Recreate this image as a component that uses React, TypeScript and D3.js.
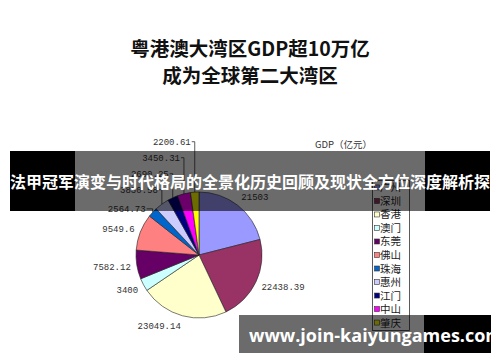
import * as React from "react";
import * as d3 from "d3";

const cities = ["广州", "深圳", "香港", "澳门", "东莞", "佛山", "珠海", "惠州", "江门", "中山", "肇庆"];
const gdp = [21503, 22438.39, 23049.14, 3400, 7582.12, 9549.6, 2564.73, 3830.58, 2690.25, 3450.31, 2200.61];
const colors = ["#9999FF", "#993366", "#FFFFCC", "#CCFFFF", "#660066", "#FF8080", "#0066CC", "#CCCCFF", "#000080", "#FF00FF", "#FFFF00"];
const titleLines = ["粤港澳大湾区GDP超10万亿", "成为全球第二大湾区"];
const legendTitle = "GDP（亿元）";
const bannerText = "法甲冠军演变与时代格局的全景化历史回顾及现状全方位深度解析探";
const siteText = "www.join-kaiyungames.com";

const W = 500;
const H = 362;
const cx = 199;
const cy = 255;
const R = 63;

const cjk = "'Noto Sans CJK SC', 'Noto Sans', sans-serif";
const mono = "'Liberation Mono', 'DejaVu Sans Mono', monospace";

export default function App() {
  const ref = React.useRef<SVGSVGElement>(null);

  React.useEffect(() => {
    const svg = d3.select(ref.current);
    svg.selectAll("*").remove();

    svg.append("rect").attr("width", W).attr("height", H).attr("fill", "#fff");

    // title
    svg.append("g")
      .selectAll("text")
      .data(titleLines)
      .enter()
      .append("text")
      .attr("x", W / 2)
      .attr("y", (d, i) => 56 + i * 27)
      .attr("text-anchor", "middle")
      .style("font-family", cjk)
      .style("font-weight", "bold")
      .style("font-size", "19.5px")
      .attr("fill", "#111")
      .text(d => d);

    const rows = cities.map((c, i) => ({ city: c, value: gdp[i], color: colors[i] }));
    const pie = d3.pie<any>().value(d => d.value).sort(null);
    const arcs = pie(rows);
    const arc = d3.arc<any>().innerRadius(0).outerRadius(R);

    const g = svg.append("g").attr("transform", `translate(${cx},${cy})`);
    g.selectAll("path")
      .data(arcs)
      .enter()
      .append("path")
      .attr("d", arc)
      .attr("fill", d => d.data.color)
      .attr("stroke", "#222")
      .attr("stroke-width", 0.6);

    // labels, Excel-like: outside the pie, pushed up on the crowded left side
    const labels = arcs.map(d => {
      const a = (d.startAngle + d.endAngle) / 2;
      const s = Math.sin(a);
      const c = Math.cos(a);
      const ax = cx + (R + 6) * s;
      const ay = cy - (R + 6) * c;
      const text = String(d.data.value);
      return {
        a, s, c, text,
        left: s < 0,
        x: ax,
        y: ay - c * 4.5 + 3.5,
        natural: ay - c * 4.5 + 3.5,
        px: cx + R * s,
        py: cy - R * c,
        leader: false,
      };
    });
    const gap = 16;
    let prev = Infinity;
    labels.filter(l => l.left).forEach(l => {
      if (l.y > prev - gap) l.y = prev - gap;
      prev = l.y;
    });
    labels.forEach(l => {
      if (l.left && l.natural - l.y > 2) {
        l.x = l.px - 4;
        l.leader = true;
      } else if (l.left && l.c > 0.5) {
        // near-horizontal tick for labels close to the crowded corner
        l.x = l.px - 7;
        l.y = l.py - 0.5;
        l.leader = true;
      }
    });

    const lg = svg.append("g");
    lg.selectAll("path")
      .data(labels.filter(l => l.leader))
      .enter()
      .append("path")
      .attr("d", l => `M${l.x + 1},${l.y - 3}H${l.px}V${l.py}`)
      .attr("fill", "none")
      .attr("stroke", "#333")
      .attr("stroke-width", 0.8);
    lg.selectAll("text")
      .data(labels)
      .enter()
      .append("text")
      .attr("x", l => l.x)
      .attr("y", l => l.y)
      .attr("text-anchor", l => (l.left ? "end" : "start"))
      .style("font-family", mono)
      .style("font-size", "9px")
      .attr("fill", "#333")
      .text(l => l.text);

    // legend
    svg.append("text")
      .attr("x", 315)
      .attr("y", 148)
      .style("font-family", cjk)
      .style("font-size", "9.5px")
      .attr("fill", "#333")
      .text(legendTitle);

    const ly = d3.scaleBand().domain(cities).range([180, 330]).paddingOuter(0.05);
    svg.append("rect")
      .attr("x", 372.5)
      .attr("y", 180.5)
      .attr("width", 37)
      .attr("height", 150)
      .attr("fill", "#fff")
      .attr("stroke", "#333")
      .attr("stroke-width", 0.8);
    const items = svg.append("g")
      .selectAll("g")
      .data(rows)
      .enter()
      .append("g")
      .attr("transform", d => `translate(0,${(ly(d.city) as number) + ly.bandwidth() / 2})`);
    items.append("rect")
      .attr("x", 374.5)
      .attr("y", -2.5)
      .attr("width", 5)
      .attr("height", 5)
      .attr("fill", d => d.color)
      .attr("stroke", "#333")
      .attr("stroke-width", 0.6);
    items.append("text")
      .attr("x", 380)
      .attr("y", 4)
      .style("font-family", cjk)
      .style("font-size", "10.5px")
      .attr("fill", "#222")
      .text(d => d.city);

    // banner overlay
    svg.append("rect").attr("x", 10).attr("y", 151).attr("width", 65).attr("height", 60).attr("fill", "#000");
    svg.append("rect").attr("x", 425).attr("y", 151).attr("width", 65).attr("height", 60).attr("fill", "#000");
    svg.append("rect").attr("x", 75).attr("y", 151).attr("width", 350).attr("height", 60).attr("fill", "rgba(0,0,0,0.58)");
    svg.append("text")
      .attr("x", W / 2)
      .attr("y", 188)
      .attr("text-anchor", "middle")
      .style("font-family", cjk)
      .style("font-weight", "bold")
      .style("font-size", "16px")
      .attr("fill", "#fff")
      .text(bannerText);

    // site watermark
    svg.append("rect").attr("x", 239).attr("y", 315).attr("width", 185).attr("height", 38).attr("fill", "rgba(0,0,0,0.58)");
    svg.append("rect").attr("x", 424).attr("y", 315).attr("width", 67).attr("height", 38).attr("fill", "#000");
    svg.append("text")
      .attr("x", 249)
      .attr("y", 342)
      .style("font-family", "'Open Sans', 'Noto Sans', sans-serif")
      .style("font-weight", "bold")
      .style("font-size", "18px")
      .attr("fill", "#fff")
      .text(siteText);
  }, []);

  return (
    <svg
      ref={ref}
      width={W}
      height={H}
      style={{ position: "fixed", left: 0, top: 0, display: "block" }}
    />
  );
}
